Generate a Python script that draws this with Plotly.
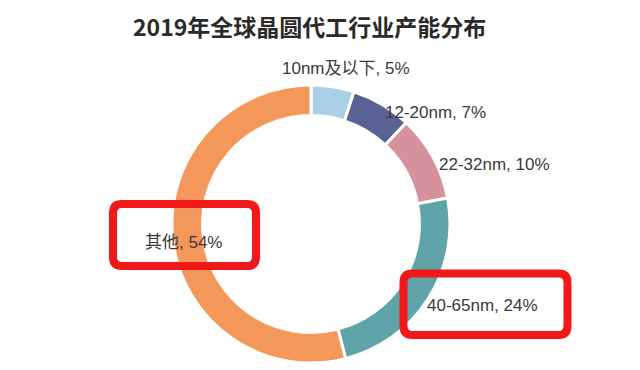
import plotly.graph_objects as go

W, H = 640, 370
OFF = 8  # page body margin offset

categories = ["10nm及以下", "12-20nm", "22-32nm", "40-65nm", "其他"]
shares = [5, 7, 10, 24, 54]
colors = ["#a9d0e5", "#5a6295", "#d6929c", "#5fa4a8", "#f3975a"]
title_text = "2019年全球晶圆代工行业产能分布"

# label anchor positions in page pixels (x, y from top)
label_pos = [(346, 68), (435, 112), (494, 164), (482, 305), (183, 242)]
# highlighted labels (red boxes) in page pixels: x0, y0, x1, y1
boxes = [(113, 204, 256, 266), (403.5, 273.5, 567.5, 335)]


def px(x):
    return (x - OFF) / W


def py(y):
    return 1 - (y - OFF) / H


cx, cy, r = 311, 224, 139

fig = go.Figure()
fig.add_trace(go.Pie(
    labels=categories,
    values=shares,
    hole=0.78,
    sort=False,
    direction="clockwise",
    rotation=0,
    marker=dict(colors=colors, line=dict(color="white", width=3)),
    textinfo="none",
    hoverinfo="label+percent",
    showlegend=False,
    domain=dict(x=[px(cx - r), px(cx + r)], y=[py(cy + r), py(cy - r)]),
))

annotations = [dict(
    text=f"<b>{title_text}</b>", x=px(309), y=py(26), xref="paper", yref="paper",
    showarrow=False, xanchor="center", yanchor="middle",
    font=dict(family="Noto Sans CJK SC", size=23, color="#2a2a2a"))]

for (lab, val), (lx, ly) in zip(zip(categories, shares), label_pos):
    annotations.append(dict(
        text=f"{lab}, {val}%", x=px(lx), y=py(ly), xref="paper", yref="paper",
        showarrow=False, xanchor="center", yanchor="middle",
        font=dict(family="Liberation Sans, Noto Sans CJK SC", size=17, color="#3a3a3a")))

shapes = []
rad = 9
for (x0, y0, x1, y1) in boxes:
    pts = [
        f"M {px(x0 + rad)},{py(y0)}",
        f"L {px(x1 - rad)},{py(y0)}",
        f"Q {px(x1)},{py(y0)} {px(x1)},{py(y0 + rad)}",
        f"L {px(x1)},{py(y1 - rad)}",
        f"Q {px(x1)},{py(y1)} {px(x1 - rad)},{py(y1)}",
        f"L {px(x0 + rad)},{py(y1)}",
        f"Q {px(x0)},{py(y1)} {px(x0)},{py(y1 - rad)}",
        f"L {px(x0)},{py(y0 + rad)}",
        f"Q {px(x0)},{py(y0)} {px(x0 + rad)},{py(y0)}",
        "Z",
    ]
    shapes.append(dict(type="path", path=" ".join(pts), xref="paper", yref="paper",
                       line=dict(color="#f01818", width=8)))

fig.update_layout(
    width=W, height=H,
    margin=dict(l=0, r=0, t=0, b=0),
    paper_bgcolor="white", plot_bgcolor="white",
    annotations=annotations,
    shapes=shapes,
)

fig.write_html("out.html")
